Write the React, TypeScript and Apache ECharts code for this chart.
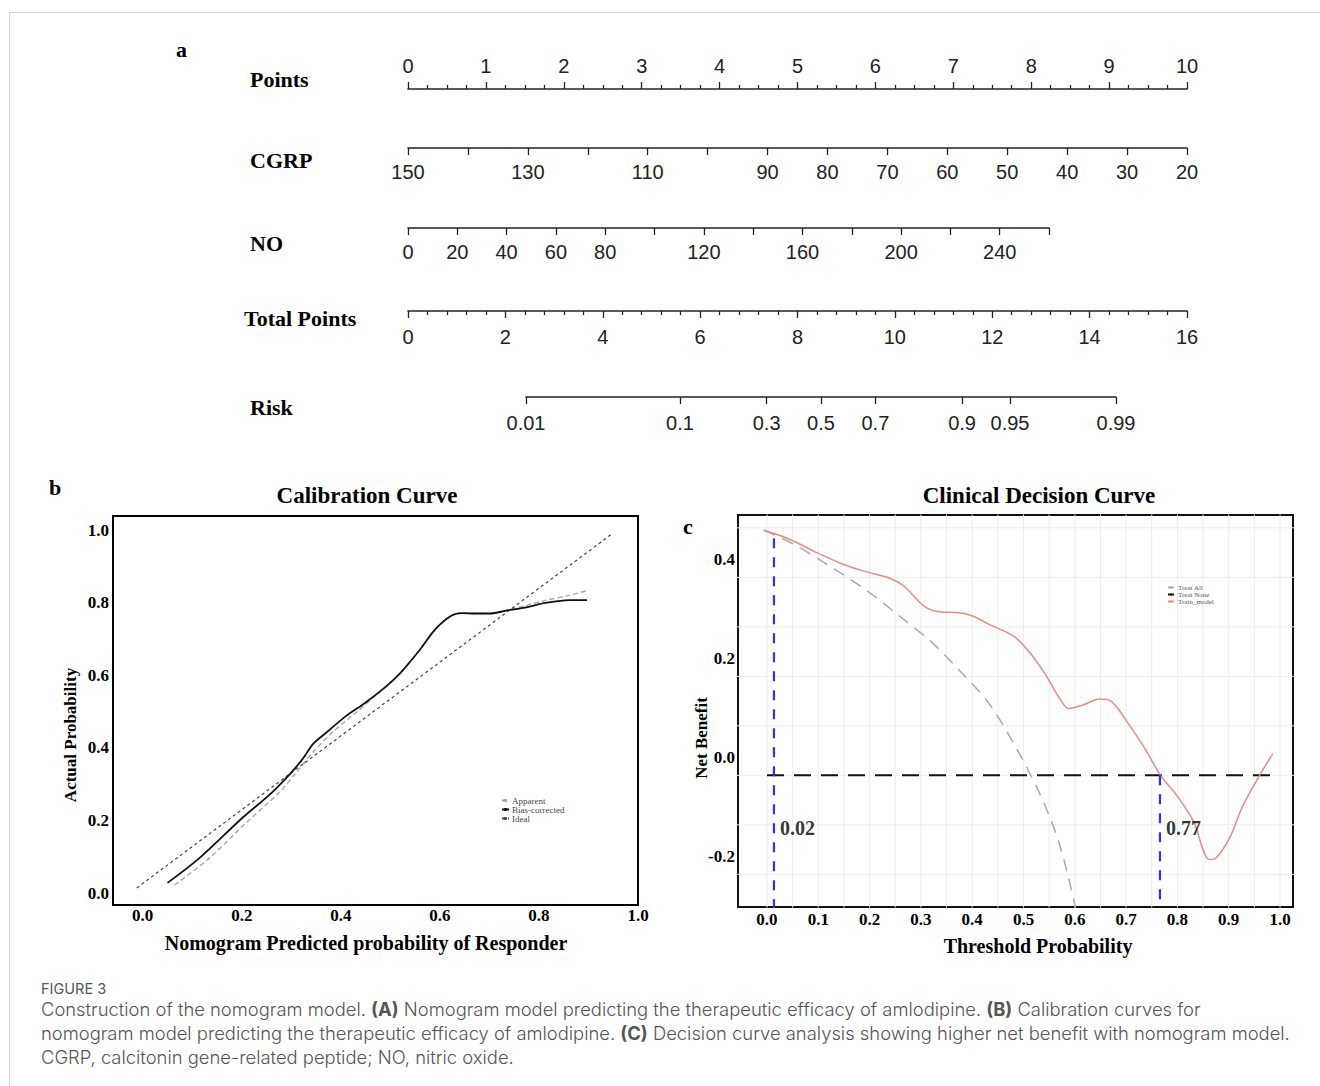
import React, { useEffect, useRef } from "react";
import * as echarts from "echarts";

const SERIF = "'Liberation Serif', 'Times New Roman', serif";
const SANS = "'Liberation Sans', Arial, sans-serif";
const CAPTION_FONT = "Inter, 'Open Sans', sans-serif";

// ---------- Nomogram scales ----------
const pointsRange = [0, 10];
const cgrpRange = [20, 150];
const cgrpLabels = [150, 130, 110, 90, 80, 70, 60, 50, 40, 30, 20];
const noRange = [0, 260];
const noLabels = [0, 20, 40, 60, 80, 120, 160, 200, 240];
const totalRange = [0, 16];
const riskTicks = [0.01, 0.1, 0.3, 0.5, 0.7, 0.9, 0.95, 0.99];

// ---------- Calibration curve ----------
const calibTicks = [0, 0.2, 0.4, 0.6, 0.8, 1.0];
const calibApparent = [
  [0.064, 0.022], [0.131, 0.092], [0.21, 0.195], [0.274, 0.275], [0.306, 0.325],
  [0.345, 0.39], [0.385, 0.445], [0.433, 0.5], [0.472, 0.546], [0.52, 0.606],
  [0.56, 0.671], [0.591, 0.727], [0.623, 0.764], [0.645, 0.771], [0.671, 0.77],
  [0.702, 0.77], [0.734, 0.779], [0.774, 0.792], [0.813, 0.806], [0.861, 0.82],
  [0.897, 0.833],
];
const calibBias = [
  [0.05, 0.028], [0.115, 0.097], [0.202, 0.208], [0.258, 0.273], [0.298, 0.329],
  [0.321, 0.366], [0.345, 0.412], [0.369, 0.44], [0.409, 0.486], [0.448, 0.523],
  [0.488, 0.565], [0.52, 0.606], [0.56, 0.671], [0.591, 0.727], [0.623, 0.764],
  [0.645, 0.771], [0.671, 0.77], [0.702, 0.77], [0.734, 0.778], [0.774, 0.787],
  [0.813, 0.799], [0.861, 0.807], [0.897, 0.807],
];
const calibIdeal = [[-0.012, 0.014], [0.948, 0.99]];

// ---------- Decision curve ----------
const dcaTicksX = [0, 0.1, 0.2, 0.3, 0.4, 0.5, 0.6, 0.7, 0.8, 0.9, 1.0];
const dcaTicksY = [-0.2, 0, 0.2, 0.4];
const dcaGridX = [0, 0.05, 0.1, 0.15, 0.2, 0.25, 0.3, 0.35, 0.4, 0.45, 0.5, 0.55, 0.6, 0.65, 0.7, 0.75, 0.8, 0.85, 0.9, 0.95, 1.0];
const dcaGridY = [-0.237, -0.137, -0.037, 0.063, 0.163, 0.263, 0.363, 0.463];
const dcaTreatAll = [
  [-0.006, 0.458], [0.052, 0.43], [0.131, 0.38], [0.195, 0.336], [0.258, 0.285],
  [0.322, 0.231], [0.386, 0.163], [0.433, 0.108], [0.481, 0.027], [0.529, -0.068],
  [0.568, -0.169], [0.6, -0.298], [0.615, -0.38],
];
const dcaTreatNone = [[0, -0.037], [0.985, -0.037]];
const dcaModel = [
  [-0.006, 0.458], [0.044, 0.44], [0.095, 0.414], [0.147, 0.39], [0.187, 0.376],
  [0.234, 0.363], [0.266, 0.346], [0.306, 0.305], [0.338, 0.293], [0.37, 0.292],
  [0.401, 0.285], [0.433, 0.268], [0.481, 0.244], [0.513, 0.21], [0.545, 0.163],
  [0.568, 0.122], [0.588, 0.098], [0.616, 0.105], [0.648, 0.117], [0.672, 0.112],
  [0.704, 0.068], [0.735, 0.02], [0.767, -0.037], [0.799, -0.078], [0.831, -0.129],
  [0.862, -0.207], [0.874, -0.205], [0.902, -0.163], [0.926, -0.102], [0.958, -0.041],
  [0.986, 0.007],
];
const dcaCutoffX = [0.0136, 0.766];
const dcaCutoffTop = [0.442, -0.037];
const dcaCutoffLabels = ["0.02", "0.77"];
const dcaCutoffLabelY = -0.143;

const logit = (p: number) => Math.log(p / (1 - p));

const txt = (text: string, x: number, y: number, size: number, extra: any = {}, elExtra: any = {}) => ({
  type: "text",
  x,
  y,
  silent: true,
  ...elExtra,
  style: {
    text,
    fontSize: size,
    fontFamily: SERIF,
    fontWeight: "bold",
    fill: "#000",
    align: "left",
    verticalAlign: "middle",
    textAlign: "left",
    textVerticalAlign: "middle",
    ...extra,
  },
});

const TICK = { color: "#222", width: 1.3 };

const nomoAxisBase = (gridIndex: number, position: string, labelMargin: number) => ({
  gridIndex,
  type: "value",
  position,
  axisLine: { show: true, onZero: false, lineStyle: { color: "#222", width: 1.6 } },
  axisTick: { show: true, length: 7, inside: false, lineStyle: TICK },
  axisLabel: { show: true, fontSize: 20, margin: labelMargin, color: "#222", fontFamily: SANS },
  splitLine: { show: false },
  minorSplitLine: { show: false },
});

const tickLabel = (margin: number) => ({
  formatter: (v: number) => v.toFixed(1),
  fontSize: 17,
  fontWeight: "bold",
  fontFamily: SERIF,
  color: "#000",
  margin,
});

export default function App() {
  const ref = useRef<HTMLDivElement>(null);

  useEffect(() => {
    if (!ref.current) return;
    const chart = echarts.init(ref.current, null, { renderer: "svg" });

    const nomoGrids = [
      { left: 408, width: 779, top: 89, height: 10 },
      { left: 408, width: 779, top: 138, height: 10 },
      { left: 408, width: 641, top: 218, height: 10 },
      { left: 408, width: 779, top: 301, height: 10 },
      { left: 526, width: 590, top: 387, height: 10 },
    ];
    const grids: any[] = nomoGrids.map((g) => ({ ...g, outerBoundsMode: "none", containLabel: false, show: false }));
    grids.push({ left: 113, width: 525, top: 516, height: 389, show: true, borderColor: "#000", borderWidth: 2, backgroundColor: "transparent", outerBoundsMode: "none", containLabel: false });
    grids.push({ left: 738, width: 555, top: 515, height: 392, show: true, borderColor: "#111", borderWidth: 2, backgroundColor: "transparent", outerBoundsMode: "none", containLabel: false });

    const riskLogits = riskTicks.map(logit);

    const xAxes: any[] = [
      {
        ...nomoAxisBase(0, "top", 13),
        min: pointsRange[0], max: pointsRange[1], interval: 1,
        minorTick: { show: true, splitNumber: 4, length: 4, lineStyle: TICK },
      },
      {
        ...nomoAxisBase(1, "bottom", 14),
        min: cgrpRange[0], max: cgrpRange[1], interval: 10, inverse: true,
        axisLabel: { ...nomoAxisBase(1, "bottom", 14).axisLabel, customValues: cgrpLabels },
      },
      {
        ...nomoAxisBase(2, "bottom", 14),
        min: noRange[0], max: noRange[1], interval: 20,
        axisLabel: { ...nomoAxisBase(2, "bottom", 14).axisLabel, customValues: noLabels },
      },
      {
        ...nomoAxisBase(3, "bottom", 16),
        min: totalRange[0], max: totalRange[1], interval: 2,
        minorTick: { show: true, splitNumber: 5, length: 4, lineStyle: TICK },
      },
      {
        ...nomoAxisBase(4, "bottom", 16),
        min: riskLogits[0], max: riskLogits[riskLogits.length - 1],
        axisTick: { show: true, length: 7, lineStyle: TICK, customValues: riskLogits },
        axisLabel: {
          ...nomoAxisBase(4, "bottom", 16).axisLabel,
          customValues: riskLogits,
          formatter: (v: number) => {
            let best = 0;
            riskLogits.forEach((l, i) => { if (Math.abs(l - v) < Math.abs(riskLogits[best] - v)) best = i; });
            return String(riskTicks[best]);
          },
        },
      },
      {
        gridIndex: 5, type: "value", min: -0.06, max: 1.0,
        axisLine: { show: false }, axisTick: { show: false }, splitLine: { show: false },
        axisLabel: { customValues: calibTicks, ...tickLabel(2) },
      },
      {
        gridIndex: 6, type: "value", min: -0.0565, max: 1.0253,
        axisLine: { show: false }, axisTick: { show: false }, splitLine: { show: false },
        axisLabel: { customValues: dcaTicksX, ...tickLabel(4) },
      },
    ];

    const yAxes: any[] = [0, 1, 2, 3, 4].map((i) => ({ gridIndex: i, type: "value", show: false, min: 0, max: 1 }));
    yAxes.push({
      gridIndex: 5, type: "value", min: -0.033, max: 1.0386,
      axisLine: { show: false }, axisTick: { show: false }, splitLine: { show: false },
      axisLabel: { customValues: calibTicks, ...tickLabel(4) },
    });
    yAxes.push({
      gridIndex: 6, type: "value", min: -0.303, max: 0.4889,
      axisLine: { show: false }, axisTick: { show: false }, splitLine: { show: false },
      axisLabel: { customValues: dcaTicksY, ...tickLabel(3) },
    });

    // gridlines for decision panel, as segments separated by gaps
    const gridSegs: any[] = [];
    dcaGridX.forEach((x) => { gridSegs.push([x, -0.4], [x, 0.6], [x, "-"]); });
    dcaGridY.forEach((y) => { gridSegs.push([-0.1, y], [1.1, y], ["-", y]); });

    const cutoffSegs: any[] = [];
    dcaCutoffX.forEach((x, i) => { cutoffSegs.push([x, dcaCutoffTop[i]], [x, -0.4], [x, "-"]); });

    const lineBase = { type: "line", symbol: "none", showSymbol: false, silent: true, animation: false };

    const series: any[] = [
      { ...lineBase, name: "Apparent", xAxisIndex: 5, yAxisIndex: 5, data: calibApparent, smooth: 0.3, color: "#a8a8a8", lineStyle: { color: "#a8a8a8", width: 1.4, type: [5, 3] }, z: 3 },
      { ...lineBase, name: "Bias-corrected", xAxisIndex: 5, yAxisIndex: 5, data: calibBias, smooth: 0.3, color: "#111", lineStyle: { color: "#111", width: 1.8 }, z: 4 },
      { ...lineBase, name: "Ideal", xAxisIndex: 5, yAxisIndex: 5, data: calibIdeal, color: "#444", lineStyle: { color: "#444", width: 1.2, type: [3, 3] }, z: 3 },
      { ...lineBase, name: "grid", xAxisIndex: 6, yAxisIndex: 6, data: gridSegs, connectNulls: false, lineStyle: { color: "#ededed", width: 1 }, z: 1 },
      { ...lineBase, name: "Treat All", xAxisIndex: 6, yAxisIndex: 6, data: dcaTreatAll, smooth: 0.3, color: "#ababab", lineStyle: { color: "#ababab", width: 1.5, type: [12, 8] }, z: 3 },
      { ...lineBase, name: "Treat None", xAxisIndex: 6, yAxisIndex: 6, data: dcaTreatNone, color: "#111", lineStyle: { color: "#111", width: 2, type: [17, 10] }, z: 3 },
      { ...lineBase, name: "Train_model", xAxisIndex: 6, yAxisIndex: 6, data: dcaModel, smooth: 0.3, color: "#ef8a82", lineStyle: { color: "#ef8a82", width: 1.5 }, z: 4 },
      { ...lineBase, name: "cutoff", xAxisIndex: 6, yAxisIndex: 6, data: cutoffSegs, connectNulls: false, lineStyle: { color: "#2f2fff", width: 2.2, type: [10, 9] }, z: 5 },
      {
        type: "scatter", name: "cutoffLabel", xAxisIndex: 6, yAxisIndex: 6, silent: true, symbolSize: 0,
        data: dcaCutoffX.map((x) => [x, dcaCutoffLabelY]),
        label: { show: true, position: "right", distance: 6, formatter: (p: any) => dcaCutoffLabels[p.dataIndex], fontSize: 20, fontWeight: "bold", fontFamily: SERIF, color: "#000" },
        z: 6,
      },
    ];

    const captionRich = {
      n: { fontSize: 18.4, lineHeight: 20, fontFamily: CAPTION_FONT, fontWeight: 300, fill: "#555", color: "#555" },
      b: { fontSize: 18.4, lineHeight: 20, fontFamily: CAPTION_FONT, fontWeight: "bold", fill: "#555", color: "#555" },
    };

    const center = { align: "center", textAlign: "center" };

    const graphic: any[] = [
      { type: "rect", silent: true, shape: { x: 9.5, y: 12.5, width: 1400, height: 1200 }, style: { fill: "none", stroke: "#d4d4d4", lineWidth: 1 } },
      txt("a", 176, 49, 22),
      txt("Points", 250, 79, 22),
      txt("CGRP", 250, 160, 22),
      txt("NO", 250, 243, 22),
      txt("Total Points", 244, 318, 22),
      txt("Risk", 250, 407, 22),
      txt("b", 49, 487, 22),
      txt("c", 683, 526, 22),
      txt("Calibration Curve", 367, 495, 23, center),
      txt("Clinical Decision Curve", 1039, 495, 23, center),
      txt("Nomogram Predicted probability of Responder", 366, 943, 20, center),
      txt("Actual Probability", 70, 735, 17, center, { rotation: Math.PI / 2 }),
      txt("Threshold Probability", 1038, 946, 20, center),
      txt("Net Benefit", 701, 738, 17, center, { rotation: Math.PI / 2 }),
      txt("FIGURE 3", 41, 988, 14.5, { fontFamily: CAPTION_FONT, fontWeight: "normal", fill: "#555", lineHeight: 15 }),
      {
        type: "text", x: 41, y: 1009, silent: true,
        style: { text: "{n|Construction of the nomogram model. }{b|(A)}{n| Nomogram model predicting the therapeutic efficacy of amlodipine. }{b|(B)}{n| Calibration curves for}", rich: captionRich, verticalAlign: "middle", textVerticalAlign: "middle", fill: "#555" },
      },
      {
        type: "text", x: 41, y: 1033, silent: true,
        style: { text: "{n|nomogram model predicting the therapeutic efficacy of amlodipine. }{b|(C)}{n| Decision curve analysis showing higher net benefit with nomogram model.}", rich: captionRich, verticalAlign: "middle", textVerticalAlign: "middle", fill: "#555" },
      },
      {
        type: "text", x: 41, y: 1057, silent: true,
        style: { text: "{n|CGRP, calcitonin gene-related peptide; NO, nitric oxide.}", rich: captionRich, verticalAlign: "middle", textVerticalAlign: "middle", fill: "#555" },
      },
    ];

    const option: any = {
      animation: false,
      backgroundColor: "#fff",
      textStyle: { fontFamily: SERIF },
      grid: grids,
      xAxis: xAxes,
      yAxis: yAxes,
      legend: [
        {
          data: ["Apparent", "Bias-corrected", "Ideal"], orient: "vertical", left: 501, top: 796,
          itemWidth: 7, itemHeight: 4, itemGap: 0, padding: 0, selectedMode: false,
          textStyle: { fontSize: 9, fontFamily: SERIF, color: "#444", lineHeight: 8.5, padding: [0, 0, 0, -2] },
        },
        {
          data: ["Treat All", "Treat None", "Train_model"], orient: "vertical", left: 1167, top: 584,
          itemWidth: 6, itemHeight: 3, itemGap: 0, padding: 0, selectedMode: false,
          textStyle: { fontSize: 7, fontFamily: SERIF, color: "#555", lineHeight: 6.5, padding: [0, 0, 0, -1] },
        },
      ],
      series,
      graphic,
    };

    chart.setOption(option);
    return () => chart.dispose();
  }, []);

  return <div ref={ref} style={{ position: "absolute", left: 0, top: 0, width: 1320, height: 1086 }} />;
}
